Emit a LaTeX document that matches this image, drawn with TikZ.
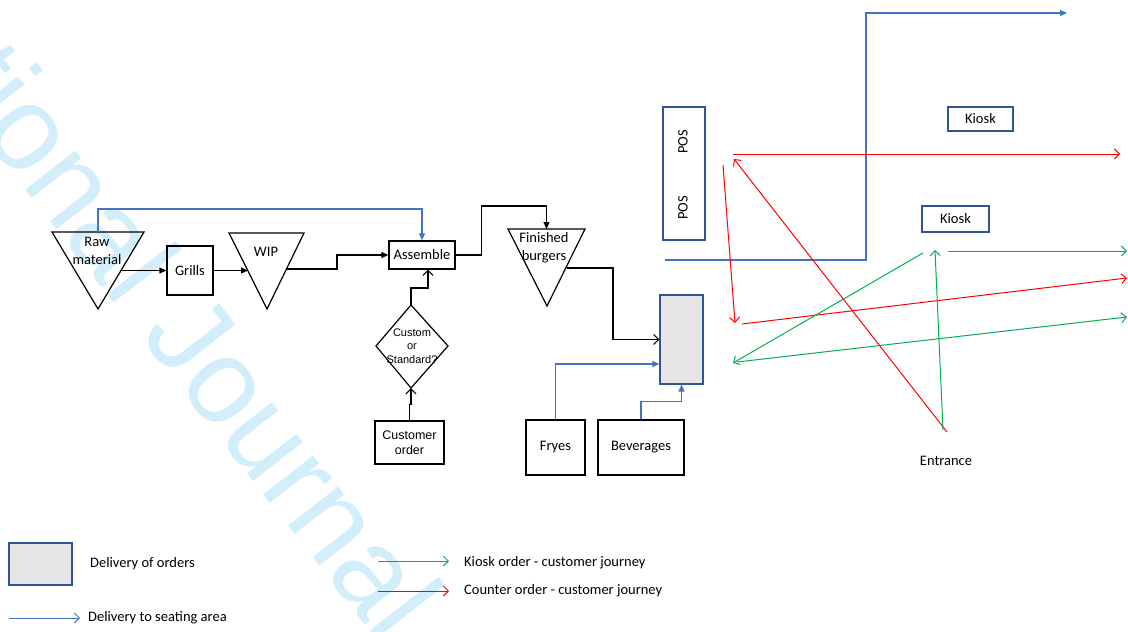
\documentclass[tikz,border=0pt]{standalone}
\usepackage{fontspec}
\setmainfont{Carlito}
\newfontfamily\arialish{Liberation Sans}
\usetikzlibrary{arrows.meta,calc}
\definecolor{lineblue}{HTML}{4472C4}
\definecolor{boxblue}{HTML}{2F5597}
\definecolor{jred}{HTML}{FF0000}
\definecolor{jgreen}{HTML}{00B050}
\definecolor{fillgray}{HTML}{E6E6E6}
\definecolor{wmcyan}{HTML}{D3EEFB}

\begin{document}
\begin{tikzpicture}[x=1pt,y=-1pt,
  txt/.style={font=\fontsize{14.5}{18}\selectfont, align=center, inner sep=0pt},
  small/.style={font=\arialish\fontsize{11}{13.5}\selectfont, align=center, inner sep=0pt},
  blackbox/.style={draw=black, line width=1.3pt, font=\fontsize{14.5}{15}\selectfont,
    align=center, inner sep=0pt},
  bluebox/.style={draw=boxblue, line width=1.1pt, font=\fontsize{14.5}{15}\selectfont,
    align=center, inner sep=0pt},
  grayslot/.style={bluebox, fill=fillgray},
  outline/.style={draw=black, line width=1.2pt, line join=miter},
  blk/.style={draw=black, line width=1.1pt, -{Triangle[length=7pt,width=6pt]}},
  blkopen/.style={draw=black, line width=1.1pt, -{Straight Barb[length=5pt,width=10pt]}},
  blu/.style={draw=lineblue, line width=1.1pt, -{Triangle[length=7pt,width=6pt]}},
  bluopen/.style={draw=lineblue, line width=1pt, -{Straight Barb[length=5pt,width=10pt]}},
  redpath/.style={draw=jred, line width=1pt, -{Straight Barb[length=5pt,width=10pt]}},
  greenpath/.style={draw=jgreen, line width=1pt, -{Straight Barb[length=5pt,width=10pt]}},
]
\useasboundingbox (0,0) rectangle (1128,632);

% watermark
\begin{scope}
  \clip (0,0) rectangle (1128,632);
  \node[wmcyan, font=\arialish\fontsize{120}{120}\selectfont, inner sep=0pt,
        anchor=base west, rotate=-52] (wm) at (-57.5,83.4) {tional Journal};
\end{scope}

% ---------- production line ----------
% raw material (inventory triangle)
\draw[outline] (52,232) -- (144,232) -- (98,309) -- cycle;
\node[txt] (raw) at (97,251) {Raw\\material};
\coordinate (rawT) at (98,232);
\coordinate (rawR) at (122,270.5);

\node[blackbox, minimum width=46pt, minimum height=49pt] (grills) at (190,270.5) {Grills};

% work in progress
\draw[outline] (229,233) -- (304,233) -- (267,309) -- cycle;
\node[txt] (wip) at (266,252) {WIP};
\coordinate (wipL) at (248,270.5);
\coordinate (wipR) at (287,269);

\node[blackbox, minimum width=66pt, minimum height=28pt] (assemble) at (422,255) {Assemble};

% finished burgers
\draw[outline] (508,229) -- (585,229) -- (547,306) -- cycle;
\node[txt] (fin) at (544,248) {Finished\\burgers};
\coordinate (finT) at (546.5,229);
\coordinate (finR) at (567,268);

% decision
\draw[outline] (376,346) -- (411,305) -- (448,346) -- (411,388) -- cycle;
\node[small] (dtext) at (412,346) {Custom\\or\\Standard?};
\coordinate (dTop) at (411,305);
\coordinate (dBot) at (411,388);

\node[blackbox, font=\arialish\fontsize{12.5}{14.5}\selectfont, minimum width=69pt, minimum height=43pt]
  (cust) at (409.5,442.5) {Customer\\order};

\node[blackbox, minimum width=59pt, minimum height=55pt] (fryes) at (555.5,447.5) {Fryes};
\node[blackbox, minimum width=86pt, minimum height=55pt] (bev) at (641,447.5) {Beverages};

% delivery slot
\node[grayslot, minimum width=43pt, minimum height=89pt] (gray) at (681.5,339.5) {};

% production connectors
\draw[blk] (rawR) -- (grills.west);
\draw[blk] (grills.east) -- (wipL);
\draw[blk] (wipR) -- ++(50,0) |- (assemble.west);
\draw[blu] (rawT) -- ++(0,-23) -| (assemble.north);
\draw[blk] (assemble.east) -- ++(26,0) -- ++(0,-49) -| (finT);
\draw[blkopen] (finR) -- ++(46,0) |- (gray.west);
\draw[blkopen] (dTop) -- ++(0,-17) -| ([xshift=6pt]assemble.south);
\draw[blkopen] (cust.north) -- ++(0,-16) -| (dBot);
\draw[blu] (fryes.north) |- ([shift={(0,24.5)}]gray.west);
\draw[blu] (bev.north) -- ++(0,-18) -| (gray.south);

% ---------- front of house ----------
\node[bluebox, minimum width=42pt, minimum height=133pt] (pos) at (684,173.5) {};
\node[txt, rotate=90] (pos1) at (683,142) {POS};
\node[txt, rotate=90] (pos2) at (683,208) {POS};

\node[bluebox, minimum width=65pt, minimum height=24pt] (kiosk1) at (980.5,119) {Kiosk};
\node[bluebox, minimum width=67pt, minimum height=26pt] (kiosk2) at (955.5,219) {Kiosk};

\node[txt] (entrance) at (946,461) {Entrance};

% delivery to the seating area
\coordinate (seatA) at (665,260);
\coordinate (seatB) at (1067,13);
\draw[blu] (seatA) -- ++(201,0) |- (seatB);

% counter order journey
\coordinate (rEnt) at (947,432);
\coordinate (rPos) at (734,159);
\coordinate (rA) at (733,154);
\coordinate (rOut1) at (1120,154);
\coordinate (rB) at (723,165);
\coordinate (rSlot) at (735,323);
\coordinate (rC) at (742,324);
\coordinate (rOut2) at (1127,278);
\draw[redpath] (rEnt) -- (rPos);
\draw[redpath] (rA) -- (rOut1);
\draw[redpath] (rB) -- (rSlot);
\draw[redpath] (rC) -- (rOut2);

% kiosk order journey
\coordinate (gEnt) at (943,430);
\coordinate (gKiosk) at (935,250);
\coordinate (gA) at (923,253);
\coordinate (gSlot) at (733,363);
\coordinate (gB) at (948,251);
\coordinate (gOut1) at (1127,251);
\coordinate (gC) at (737,362);
\coordinate (gOut2) at (1127,317);
\draw[greenpath] (gEnt) -- (gKiosk);
\draw[greenpath] (gA) -- (gSlot);
\draw[greenpath] (gB) -- (gOut1);
\draw[greenpath] (gC) -- (gOut2);

% ---------- legend ----------
\node[grayslot, minimum width=63pt, minimum height=42pt] (legslot) at (40.5,564) {};
\node[txt, anchor=west] (legslottxt) at (90,564) {Delivery of orders};

\coordinate (lbA) at (9,618);
\coordinate (lbB) at (80,618);
\draw[bluopen] (lbA) -- (lbB);
\node[txt, anchor=west] (lbtxt) at (88,618) {Delivery to seating area};

\coordinate (lgA) at (378,561);
\coordinate (lgB) at (449,561);
\draw[greenpath] (lgA) -- (lgB);
\node[txt, anchor=west] (lgtxt) at (464,563) {Kiosk order - customer journey};

\coordinate (lrA) at (378,591);
\coordinate (lrB) at (449,591);
\draw[redpath] (lrA) -- (lrB);
\node[txt, anchor=west] (lrtxt) at (464,591) {Counter order - customer journey};
\end{tikzpicture}
\end{document}
